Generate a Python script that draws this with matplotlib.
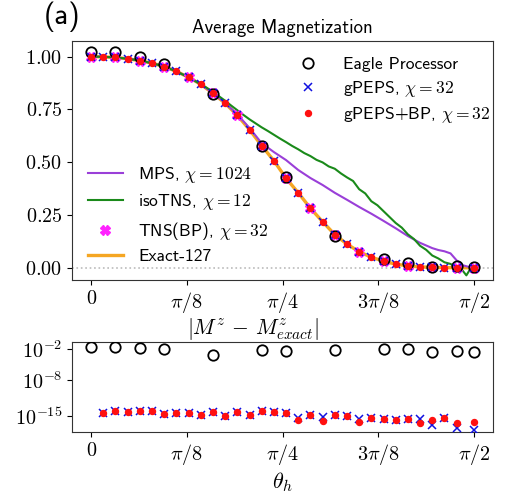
import numpy as np
import matplotlib
matplotlib.use("Agg")
import matplotlib.pyplot as plt

plt.rcParams["font.family"] = ["cmss10", "DejaVu Sans"]
plt.rcParams["mathtext.fontset"] = "cm"
plt.rcParams["axes.unicode_minus"] = False

HALF_PI = np.pi / 2

# Fine grid for the tensor-network / exact results
theta_fine = [0.00, 0.05, 0.10, 0.15, 0.20, 0.25, 0.30, 0.35, 0.40, 0.45,
              0.50, 0.55, 0.60, 0.65, 0.70, 0.75, 0.80, 0.85, 0.90, 0.95,
              1.00, 1.05, 1.10, 1.15, 1.20, 1.25, 1.30, 1.35, 1.40, 1.45,
              1.50, HALF_PI]
exact_mz = [1.000, 0.999, 0.996, 0.990, 0.981, 0.969, 0.953, 0.930, 0.902, 0.869,
            0.826, 0.779, 0.722, 0.654, 0.578, 0.507, 0.424, 0.355, 0.282, 0.218,
            0.157, 0.112, 0.076, 0.050, 0.031, 0.017, 0.009, 0.004, 0.002, 0.001,
            0.000, 0.000]
gpeps_mz = exact_mz
gpeps_bp_mz = exact_mz

# Coarse grid (hardware points and TNS(BP))
theta_tns = [0.0, 0.1, 0.2, 0.3, 0.4, 0.5, 0.6, 0.7, 0.8, 0.9, 1.0, 1.1, 1.2,
             1.3, 1.4, 1.5, HALF_PI]
tns_bp_mz = [1.000, 0.996, 0.981, 0.953, 0.902, 0.826, 0.722, 0.578, 0.424, 0.282,
             0.157, 0.076, 0.031, 0.009, 0.002, 0.000, 0.000]

theta_eagle = [0.0, 0.1, 0.2, 0.3, 0.5, 0.7, 0.8, 1.0, 1.2, 1.3, 1.4, 1.5, HALF_PI]
eagle_mz = [1.024, 1.021, 0.998, 0.966, 0.825, 0.576, 0.428, 0.150, 0.042, 0.022,
            0.005, 0.006, 0.003]

theta_mps = [0.00, 0.05, 0.10, 0.15, 0.20, 0.25, 0.30, 0.35, 0.40, 0.45, 0.50,
             0.55, 0.60, 0.65, 0.70, 0.75, 0.80, 0.85, 0.90, 0.95, 1.00, 1.05,
             1.10, 1.15, 1.20, 1.25, 1.30, 1.35, 1.40, 1.425, 1.45, 1.475, 1.50,
             1.525, 1.55, HALF_PI]
mps_mz = [1.000, 0.999, 0.996, 0.990, 0.981, 0.969, 0.953, 0.930, 0.902, 0.869, 0.827,
          0.781, 0.726, 0.662, 0.590, 0.548, 0.510, 0.463, 0.425, 0.392, 0.355, 0.322,
          0.288, 0.256, 0.222, 0.187, 0.150, 0.118, 0.093, 0.084, 0.078, 0.068, 0.035,
          0.012, 0.004, 0.002]

theta_iso = [0.00, 0.05, 0.10, 0.15, 0.20, 0.25, 0.30, 0.35, 0.40, 0.45,
             0.475, 0.500, 0.525, 0.550, 0.575, 0.600, 0.625, 0.650, 0.675, 0.700,
             0.725, 0.750, 0.775, 0.800, 0.825, 0.850, 0.875, 0.900, 0.925, 0.950,
             0.975, 1.000, 1.025, 1.050, 1.075, 1.100, 1.125, 1.150, 1.175, 1.200,
             1.225, 1.250, 1.275, 1.300, 1.325, 1.350, 1.375, 1.400, 1.425, 1.450,
             1.475, 1.500, 1.525, 1.540, 1.555, HALF_PI]
iso_mz = [1.000, 0.999, 0.996, 0.990, 0.981, 0.969, 0.953, 0.930, 0.902, 0.869,
          0.852, 0.833, 0.812, 0.791, 0.768, 0.746, 0.724, 0.703, 0.684, 0.665,
          0.648, 0.630, 0.612, 0.595, 0.577, 0.561, 0.543, 0.529, 0.511, 0.499,
          0.480, 0.469, 0.447, 0.428, 0.411, 0.372, 0.352, 0.315, 0.296, 0.268,
          0.240, 0.212, 0.190, 0.158, 0.136, 0.104, 0.085, 0.058, 0.044, 0.026,
          0.018, 0.002, -0.014, -0.036, -0.008, -0.004]

# Absolute deviations from the exact result
theta_err = theta_fine[1:]
gpeps_err = [3.3e-15, 1.07e-14, 6.9e-15, 1.07e-14, 8.1e-15, 2.5e-15, 3.3e-15, 3.3e-15,
             1.6e-15, 5.2e-15, 1.15e-15, 6.9e-15, 1.8e-15, 9.3e-15, 5.2e-15, 3.3e-15,
             3.5e-16, 1.35e-15, 5.5e-16, 1.6e-15, 1.0e-15, 3.0e-16, 3.5e-16, 2.2e-16,
             1.65e-16, 2.2e-16, 2.5e-16, 2.0e-17, 4.0e-16, 4.0e-18, 2.0e-18]
gpeps_bp_err = [3.3e-15, 1.07e-14, 6.9e-15, 1.07e-14, 8.1e-15, 2.5e-15, 3.3e-15, 3.3e-15,
                1.6e-15, 5.2e-15, 1.15e-15, 6.9e-15, 1.8e-15, 9.3e-15, 5.2e-15, 3.3e-15,
                1.65e-16, 1.35e-15, 1.25e-16, 1.6e-15, 1.0e-15, 6.3e-17, 3.5e-16, 2.2e-16,
                1.65e-16, 2.2e-16, 4.0e-17, 1.65e-16, 4.0e-16, 4.0e-17, 6.3e-17]
eagle_err = [2.45e-2, 2.45e-2, 1.6e-2, 1.15e-2, 9.0e-4, 8.5e-3, 5.4e-3, 7.2e-3,
             1.15e-2, 1.3e-2, 3.0e-3, 5.4e-3, 2.5e-3]

xtick_vals = [0, np.pi / 8, np.pi / 4, 3 * np.pi / 8, np.pi / 2]
xtick_labels = [r"$0$", r"$\pi/8$", r"$\pi/4$", r"$3\pi/8$", r"$\pi/2$"]
ytick_vals = [0.0, 0.25, 0.5, 0.75, 1.0]
ytick_labels = [r"$0.00$", r"$0.25$", r"$0.50$", r"$0.75$", r"$1.00$"]
err_tick_vals = [1e-2, 1e-8, 1e-15]
err_tick_labels = [r"$10^{-2}$", r"$10^{-8}$", r"$10^{-15}$"]

W, H = 505, 494
fig = plt.figure(figsize=(W / 100, H / 100), dpi=100)

ax = fig.add_axes([72 / W, 1 - 280 / H, 421 / W, 239 / H])
ax2 = fig.add_axes([72 / W, 1 - 432.3 / H, 421 / W, 90.6 / H])

CIRC_MS = 7.5
X_MS = 6.0
DOT_MS = 4.3

# --- magnetization panel ---
ax.axhline(0, color="#bbbbbb", ls=":", lw=1.2, zorder=0)
l_mps, = ax.plot(theta_mps, mps_mz, color="#9a3fd8", lw=1.5, zorder=2,
                 label=r"MPS, $\chi=1024$")
l_iso, = ax.plot(theta_iso, iso_mz, color="#1a8a1a", lw=1.5, zorder=2,
                 label=r"isoTNS, $\chi=12$")
l_exact, = ax.plot(theta_fine, exact_mz, color="#f5a623", lw=2.4, zorder=1,
                   label="Exact-127")
l_tns, = ax.plot(theta_tns, tns_bp_mz, ls="none", marker="X", ms=6.5,
                 color="#ff22ff", mec="#ff22ff", zorder=3,
                 label=r"TNS(BP), $\chi=32$")
l_eagle, = ax.plot(theta_eagle, eagle_mz, ls="none", marker="o", ms=CIRC_MS,
                   mfc="none", mec="black", mew=1.3, zorder=4,
                   label="Eagle Processor")
l_gpeps, = ax.plot(theta_fine, gpeps_mz, ls="none", marker="x", ms=X_MS,
                   color="#1010e0", mew=1.1, zorder=5,
                   label=r"gPEPS, $\chi=32$")
l_gbp, = ax.plot(theta_fine, gpeps_bp_mz, ls="none", marker="o", ms=DOT_MS,
                 color="#ff1010", mec="#ff1010", zorder=6,
                 label=r"gPEPS+BP, $\chi=32$")

ax.set_xlim(-0.0785, np.pi / 2 + 0.0785)
ax.set_ylim(-0.058, 1.074)
ax.set_xticks(xtick_vals)
ax.set_xticklabels(xtick_labels)
ax.set_yticks(ytick_vals)
ax.set_yticklabels(ytick_labels)
ax.tick_params(labelsize=14.5)
ax.set_title("Average Magnetization", fontsize=13.5, pad=6)

leg1 = ax.legend(handles=[l_eagle, l_gpeps, l_gbp], loc="upper right",
                 bbox_to_anchor=(1.015, 0.97), frameon=False, fontsize=12.6,
                 labelspacing=0.38, borderaxespad=0.1, handletextpad=1.0)
ax.add_artist(leg1)
ax.legend(handles=[l_mps, l_iso, l_tns, l_exact], loc="lower left",
          frameon=False, fontsize=12.6, labelspacing=0.42, handletextpad=0.9)

# --- error panel ---
ax2.plot(theta_eagle, eagle_err, ls="none", marker="o", ms=CIRC_MS, mfc="none",
         mec="black", mew=1.3, zorder=3)
ax2.plot(theta_err, gpeps_err, ls="none", marker="x", ms=X_MS, color="#1010e0",
         mew=1.1, zorder=4)
ax2.plot(theta_err, gpeps_bp_err, ls="none", marker="o", ms=DOT_MS, color="#ff1010",
         zorder=5)
ax2.set_yscale("log")
ax2.set_xlim(-0.0785, np.pi / 2 + 0.0785)
ax2.set_ylim(10 ** -18.2, 10 ** -0.5)
ax2.set_xticks(xtick_vals)
ax2.set_xticklabels(xtick_labels)
ax2.set_yticks(err_tick_vals)
ax2.set_yticklabels(err_tick_labels)
ax2.minorticks_off()
ax2.tick_params(labelsize=14.5)
ax2.set_xlabel(r"$\theta_h$", fontsize=16, labelpad=2)
ax2.text(0.43, 1.0, r"$|M^z\,-\,M^z_{exact}|$", transform=ax2.transAxes,
         ha="center", va="bottom", fontsize=15.5)

for a in (ax, ax2):
    for s in a.spines.values():
        s.set_color("#333333")

fig.text(44 / W, 1 - 1 / H, "(a)", fontsize=21, ha="left", va="top")

fig.savefig("out.png", dpi=100)
